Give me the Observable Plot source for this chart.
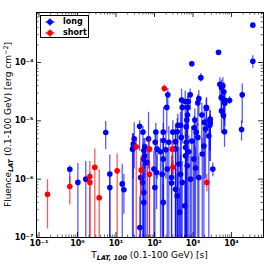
<!DOCTYPE html>
<html><head><meta charset="utf-8">
<script src="https://cdn.jsdelivr.net/npm/d3@7"></script>
<script src="https://cdn.jsdelivr.net/npm/@observablehq/plot@0.6"></script>
<style>
body{margin:0;background:#fff;}
#wrap{position:relative;width:269px;height:267px;font-family:"DejaVu Sans",sans-serif;}
#legend{position:absolute;left:40px;top:15px;width:49px;height:23px;border:1px solid #000;background:#fff;font-size:8px;font-weight:bold;box-sizing:border-box;}
#legend .row{position:absolute;left:3px;height:10px;line-height:10px;display:flex;align-items:center;}
#legend svg{margin-right:7px;}
</style></head><body><div id="wrap"></div>
<script>
// ---- data ----
const longT   = [0.63,1.02,1.64,5.4,6.9,6.9,14.5,16,41,50,29.7,28,108,69.8,168,104,171,221,208,26.8,56,52.7,55,64.6,96,102,113,143,168,197,158,168,43.3,48.8,52.7,50.9,58.3,41.5,52.7,117,28,
  930,1596,846,503,627,750,1415,1333,2203,524,719,1694,719,690,1114,1954,2798,2798,403,473,665,299,389,1074,1211,2113,235,351,494,665,931,1333,2570,351,638,1910,214,277,277,351,389,473,428,638,706,778,1050,1415,1161,1734,861,524,612,446,3266,
  35700,4592,35700,4966,5495,5943,6310,5400,6577,5495,6194,6699,6577,8872,18970,18197,2244,2730,2730];
const longF   = [1.48e-6,8.8e-7,1.0e-6,6.3e-6,1.23e-6,7.2e-7,8.3e-7,6.6e-7,8.1e-6,6.4e-6,4.9e-6,4.0e-6,6.4e-6,4.9e-6,6.4e-6,4.3e-6,4.6e-6,2.79e-5,1.7e-5,3.27e-6,3.6e-6,3.1e-6,2.5e-6,1.94e-6,1.49e-6,7.2e-7,1.3e-6,2.96e-6,2.21e-6,3.2e-6,1.21e-6,4.0e-7,1.07e-6,8.8e-7,5.9e-7,2.21e-6,1.94e-6,1.48e-7,4.0e-7,3.27e-6,3.4e-6,
  9.5e-5,5.5e-5,2.79e-5,2.27e-5,2.14e-5,2.14e-5,2.4e-5,2.03e-5,1.7e-5,1.7e-5,1.7e-5,1.26e-5,1.26e-5,1.03e-5,1.03e-5,9.4e-6,1.07e-5,9.2e-6,8.4e-6,8.4e-6,7.9e-6,6.4e-6,6.5e-6,7.6e-6,6.4e-6,7.3e-6,4.3e-6,4.4e-6,5.2e-6,4.3e-6,4.5e-6,5.2e-6,5.5e-6,3.3e-6,3.5e-6,3.7e-6,1.49e-6,1.07e-6,8.6e-7,6.7e-7,5.2e-7,1.21e-6,1.82e-6,2.52e-6,1.7e-6,2.96e-6,2.21e-6,1.07e-6,1.55e-6,2.7e-6,1.0e-6,8.8e-7,3.5e-7,2.7e-7,1.49e-6,
  4.37e-4,1.49e-4,1.05e-4,4.24e-5,3.7e-5,4.0e-5,3.14e-5,2.5e-5,2.27e-5,1.48e-5,1.23e-5,2.0e-5,6.5e-6,2.25e-5,2.79e-5,7.1e-6,1.65e-5,1.0e-5,8.4e-6];
const longFlo = [8e-7,1e-8,1e-8,3.2e-6,1e-8,1e-8,1e-8,2.5e-7,3e-6,2e-6,1.5e-6,1e-8,2.5e-6,1.5e-6,3e-6,1.5e-6,1e-8,1.7e-5,6e-6,1e-8,1.5e-6,1e-8,1e-6,1e-8,1e-8,1e-8,3e-7,1e-8,1e-8,1e-6,1e-8,1e-8,1e-8,1e-8,1e-8,6e-7,1e-8,1e-8,1e-8,1e-6,1e-6,
  8.5e-5,4.6e-5,1.5e-5,8e-6,5e-6,7e-6,1.2e-5,8e-6,6e-6,4e-6,5e-6,3e-6,2e-6,1e-8,2e-6,1e-6,3e-6,2e-6,1e-8,1e-6,1e-8,1e-6,1e-8,1e-8,1e-6,1e-6,1e-8,1e-8,1e-8,1e-8,1e-8,1e-8,1e-8,1e-8,1e-8,1e-8,1e-8,1e-8,1e-8,1e-8,1e-8,1e-8,1e-8,1e-8,1e-8,1e-8,1e-8,1e-8,1e-8,1e-8,1e-8,1e-8,1e-8,1e-8,1.1e-6,
  4.0e-4,1.35e-4,8e-5,2.5e-5,1.5e-5,2e-5,1e-5,1.2e-5,1e-5,6e-6,6e-6,8e-6,3.5e-6,1.9e-5,9e-6,4.5e-6,6e-6,3e-6,2e-6];
const longFhi = [1.7e-6,1.86e-6,2.0e-6,9.7e-6,2.6e-6,1.2e-6,1.8e-6,1.2e-6,1.0e-5,8e-6,9.3e-6,6e-6,9e-6,1.4e-5,9e-6,6e-6,1.7e-5,3.6e-5,2.5e-5,6e-6,5e-6,5e-6,4e-6,3.5e-6,3e-6,1.5e-6,2.5e-6,5e-6,4e-6,6e-6,2.5e-6,8e-7,2e-6,1.8e-6,1.2e-6,4e-6,3.5e-6,5e-7,9e-7,6e-6,6e-6,
  1.05e-4,6.5e-5,3.5e-5,3.5e-5,3.2e-5,3e-5,3.3e-5,2.8e-5,2.4e-5,2.5e-5,2.6e-5,2e-5,2e-5,1.6e-5,1.6e-5,1.5e-5,1.5e-5,1.3e-5,1.3e-5,1.4e-5,1.3e-5,1e-5,1.1e-5,1.2e-5,1e-5,1.1e-5,8e-6,8e-6,9e-6,8e-6,8e-6,9e-6,9e-6,6e-6,6e-6,7e-6,3e-6,2.5e-6,1.8e-6,1.5e-6,1.2e-6,2.5e-6,3.5e-6,4.5e-6,3.5e-6,5.5e-6,4.5e-6,2.5e-6,3.5e-6,5e-6,2.5e-6,2e-6,8e-7,7e-7,1.9e-6,
  4.7e-4,1.6e-4,1.3e-4,5.5e-5,5e-5,5.5e-5,4.5e-5,3.8e-5,3e-5,2.5e-5,2e-5,3e-5,1.2e-5,2.6e-5,4.3e-5,1.0e-5,2.5e-5,1.5e-5,1.2e-5];

const shortT   = [0.166,0.63,2.09,2.09,2.81,3.66,10.7,33.5,45.2,74,74,179,288,299,2282];
const shortF   = [5.5e-7,7.5e-7,1.11e-6,8.8e-7,1.59e-6,4.8e-7,1.39e-6,3.6e-6,1.43e-6,3.27e-6,1.21e-6,3.57e-5,3.27e-6,1.6e-6,8.8e-7];
const shortFlo = [1.4e-7,3.6e-7,1e-8,1e-8,1e-8,1e-8,1e-8,1e-8,5e-7,1e-8,1e-8,3.1e-5,1.6e-6,1.2e-6,6e-7];
const shortFhi = [9.8e-7,1.1e-6,2.0e-6,1.3e-6,3.3e-6,1.45e-6,2.7e-6,5e-6,2.5e-6,5e-6,2e-6,4.1e-5,4.5e-6,2e-6,1.2e-6];

const xDomain = [0.086, 67600];
const yDomain = [1e-7, 7.2e-4];
const xMajor = [0.1, 1, 10, 100, 1000, 10000];
const xLabels = ["10⁻¹","10⁰","10¹","10²","10³","10⁴"];
const yMajor = [1e-7, 1e-6, 1e-5, 1e-4];
const yLabels = ["10⁻⁷","10⁻⁶","10⁻⁵","10⁻⁴"];
const minorMult = [2,3,4,5,6,7,8,9];

// ---- build ----
const W = 269, H = 267, mL = 36, mR = 6, mT = 12, mB = 30;
const fW = W - mL - mR, fH = H - mT - mB;
const longData = longT.map((t, i) => ({t, f: longF[i], lo: longFlo[i], hi: longFhi[i]}));
const shortData = shortT.map((t, i) => ({t, f: shortF[i], lo: shortFlo[i], hi: shortFhi[i]}));
const xMinor = [], yMinor = [];
for (let e = -2; e <= 4; e++) for (const k of minorMult) { const v = k * Math.pow(10, e); if (v > xDomain[0] && v < xDomain[1]) xMinor.push(v); }
for (let e = -7; e <= -4; e++) for (const k of minorMult) { const v = k * Math.pow(10, e); if (v > yDomain[0] && v < yDomain[1]) yMinor.push(v); }
const xLab = new Map(xMajor.map((v, i) => [v, xLabels[i]]));
const yLab = new Map(yMajor.map((v, i) => [v, yLabels[i]]));

const chart = Plot.plot({
  width: W, height: H, marginLeft: mL, marginRight: mR, marginTop: mT, marginBottom: mB,
  x: {type: "log", domain: xDomain},
  y: {type: "log", domain: yDomain},
  style: {fontFamily: "DejaVu Sans", background: "white", color: "black", overflow: "visible"},
  marks: [
    Plot.ruleX(longData, {x: "t", y1: "lo", y2: "hi", stroke: "#0000ff", strokeOpacity: 0.65, strokeWidth: 1.3, clip: true}),
    Plot.dot(longData, {x: "t", y: "f", r: 2.8, fill: "#0000ff", clip: true}),
    Plot.ruleX(shortData, {x: "t", y1: "lo", y2: "hi", stroke: "#ff0000", strokeOpacity: 0.65, strokeWidth: 1.3, clip: true}),
    Plot.dot(shortData, {x: "t", y: "f", r: 2.8, fill: "#ff0000", clip: true}),
    // minor ticks (inside)
    Plot.ruleX(xMinor, {insetTop: fH - 2.5, stroke: "black", strokeWidth: 0.6}),
    Plot.ruleX(xMinor, {insetBottom: fH - 2.5, stroke: "black", strokeWidth: 0.6}),
    Plot.ruleY(yMinor, {insetRight: fW - 2.5, stroke: "black", strokeWidth: 0.6}),
    Plot.ruleY(yMinor, {insetLeft: fW - 2.5, stroke: "black", strokeWidth: 0.6}),
    // major ticks (inside)
    Plot.ruleX(xMajor, {insetTop: fH - 5, stroke: "black", strokeWidth: 0.8}),
    Plot.ruleX(xMajor, {insetBottom: fH - 5, stroke: "black", strokeWidth: 0.8}),
    Plot.ruleY(yMajor, {insetRight: fW - 5, stroke: "black", strokeWidth: 0.8}),
    Plot.ruleY(yMajor, {insetLeft: fW - 5, stroke: "black", strokeWidth: 0.8}),
    Plot.frame({stroke: "black", strokeWidth: 1}),
    Plot.axisX(xMajor, {tickSize: 0, tickPadding: 3, tickFormat: d => xLab.get(d), fontWeight: "bold", fontSize: 8, label: null}),
    Plot.axisY(yMajor, {tickSize: 0, tickPadding: 3, tickFormat: d => yLab.get(d), fontWeight: "bold", fontSize: 8, label: null})
  ]
});

const wrap = document.getElementById("wrap");
wrap.appendChild(chart);
const svg = d3.select(chart);
const xl = svg.append("text").attr("x", mL + fW / 2).attr("y", 258).attr("text-anchor", "middle")
  .attr("font-size", 9).attr("font-family", "DejaVu Sans").attr("fill", "black");
xl.append("tspan").text("T");
xl.append("tspan").attr("font-size", 6.5).attr("font-weight", "bold").attr("font-style", "italic").attr("dy", 2).text("LAT, 100");
xl.append("tspan").attr("dy", -2).text(" (0.1-100 GeV) [s]");

const yl = svg.append("text").attr("transform", `translate(11,${mT + fH / 2}) rotate(-90)`).attr("text-anchor", "middle")
  .attr("font-size", 9).attr("font-family", "DejaVu Sans").attr("fill", "black");
yl.append("tspan").text("Fluence");
yl.append("tspan").attr("font-size", 6.5).attr("font-weight", "bold").attr("font-style", "italic").attr("dy", 2).text("LAT");
yl.append("tspan").attr("dy", -2).text(" (0.1-100 GeV) [erg cm");
yl.append("tspan").attr("font-size", 6.5).attr("dy", -3).text("−2");
yl.append("tspan").attr("dy", 3).text("]");

// legend
const legend = document.createElement("div");
legend.id = "legend";
const entries = [["long", "#0000ff"], ["short", "#ff0000"]];
entries.forEach(([name, col], i) => {
  const row = document.createElement("div");
  row.className = "row";
  row.style.top = (1 + i * 10.5) + "px";
  row.innerHTML = `<svg width="12" height="10"><line x1="6" y1="1" x2="6" y2="9" stroke="${col}" stroke-width="1.2" stroke-opacity="0.7"/><line x1="1.5" y1="5" x2="10.5" y2="5" stroke="${col}" stroke-width="1.2"/><circle cx="6" cy="5" r="2.8" fill="${col}"/></svg><span>${name}</span>`;
  legend.appendChild(row);
});
wrap.appendChild(legend);
</script>
</body></html>
